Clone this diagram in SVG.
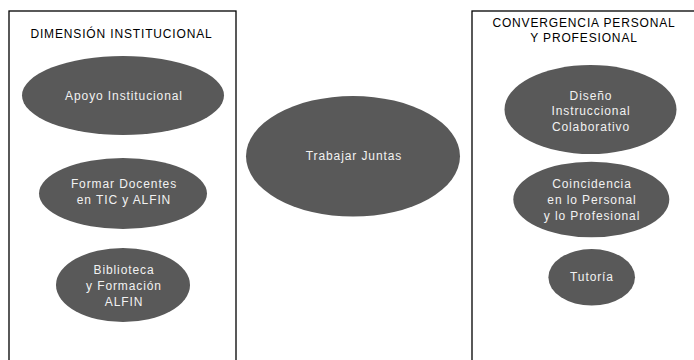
<svg xmlns="http://www.w3.org/2000/svg" width="694" height="360" viewBox="0 0 694 360">
<style>
.box{fill:#fff;stroke:#000;stroke-width:1.3}
.el{fill:#595959}
.t{font-family:"Liberation Sans",Arial,sans-serif;font-size:12px;fill:#f2f2f2;text-anchor:middle;letter-spacing:0.9px}
.h{font-family:"Liberation Sans",Arial,sans-serif;font-size:12px;fill:#000;text-anchor:middle;letter-spacing:0.85px}
</style>
<rect width="694" height="360" fill="#fff"/>
<g id="dimension-institucional">
<rect class="box" x="9" y="11" width="227" height="360"/>
<text class="h" x="121.5" y="38">DIMENSIÓN INSTITUCIONAL</text>
</g>
<g id="convergencia">
<rect class="box" x="472" y="11" width="240" height="360"/>
<text class="h" x="584" y="27">CONVERGENCIA PERSONAL</text>
<text class="h" x="584" y="42">Y PROFESIONAL</text>
</g>
<g id="apoyo">
<ellipse class="el" cx="123" cy="95.5" rx="101" ry="39.5"/>
<text class="t" x="124" y="99.5">Apoyo Institucional</text>
</g>
<g id="formar">
<ellipse class="el" cx="123" cy="193.5" rx="84" ry="35.5"/>
<text class="t" x="124" y="187.5">Formar Docentes</text>
<text class="t" x="124" y="203.5">en TIC y ALFIN</text>
</g>
<g id="biblioteca">
<ellipse class="el" cx="123" cy="285" rx="67" ry="37"/>
<text class="t" x="124" y="273.5">Biblioteca</text>
<text class="t" x="124" y="289.5">y Formación</text>
<text class="t" x="124" y="305.5">ALFIN</text>
</g>
<g id="trabajar">
<ellipse class="el" cx="353" cy="156.3" rx="107" ry="60.3"/>
<text class="t" x="354" y="159.5">Trabajar Juntas</text>
</g>
<g id="diseno">
<ellipse class="el" cx="590.5" cy="109.5" rx="86" ry="44.5"/>
<text class="t" x="591" y="99.5">Diseño</text>
<text class="t" x="591" y="115">Instruccional</text>
<text class="t" x="591" y="130.5">Colaborativo</text>
</g>
<g id="coincidencia">
<ellipse class="el" cx="591.3" cy="199.5" rx="78" ry="37.8"/>
<text class="t" x="592" y="187.5">Coincidencia</text>
<text class="t" x="592" y="203.5">en lo Personal</text>
<text class="t" x="592" y="219.5">y lo Profesional</text>
</g>
<g id="tutoria">
<ellipse class="el" cx="591.7" cy="277.3" rx="43.3" ry="28.3"/>
<text class="t" x="592" y="281">Tutoría</text>
</g>
<g id="connectors"></g>
</svg>
